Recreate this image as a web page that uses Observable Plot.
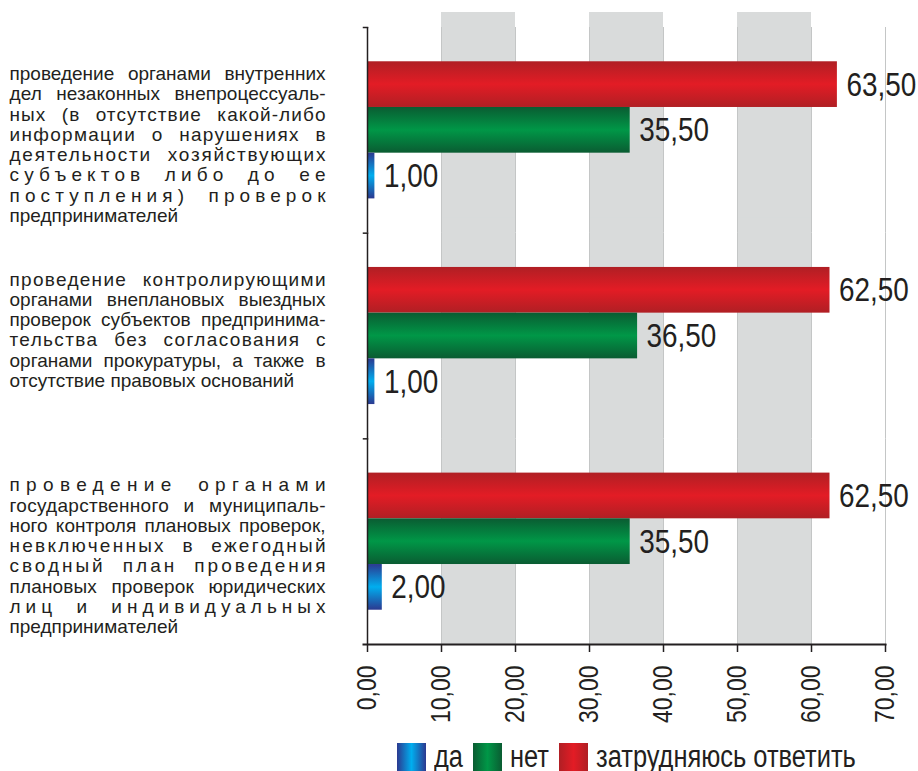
<!DOCTYPE html>
<html>
<head>
<meta charset="utf-8">
<script src="https://cdn.jsdelivr.net/npm/d3@7"></script>
<script src="https://cdn.jsdelivr.net/npm/@observablehq/plot@0.6"></script>
<style>
  body { margin: 0; background: #fff; }
  #chart { width: 918px; }
  #chart svg { display: block; }
  .legend { display: flex; justify-content: center; align-items: center; width: 918px; box-sizing: border-box;
    padding-left: 334px; margin-top: 13px; height: 28px; line-height: 28px;
    font-family: "Liberation Sans", Arial, sans-serif; font-size: 31px; color: #231f20; }
  .legend .item { display: flex; align-items: center; margin-right: 10px; }
  .legend .item:last-child { margin-right: 0; }
  .legend .sw { width: 29px; height: 28px; margin-right: 8px; flex: none; }
  .legend .lab { display: inline-block; transform-origin: left center; white-space: nowrap; }
</style>
</head>
<body>
<div id="chart"></div>
<div class="legend" id="legend"></div>
<script>
// ---------- data ----------
const categories = [
  "проведение органами внутренних\nдел незаконных внепроцессуаль-\nных (в отсутствие какой-либо\nинформации о нарушениях в\nдеятельности хозяйствующих\nсубъектов либо до ее\nпоступления) проверок\nпредпринимателей",
  "проведение контролирующими\nорганами внеплановых выездных\nпроверок субъектов предпринима-\nтельства без согласования с\nорганами прокуратуры, а также в\nотсутствие правовых оснований",
  "проведение органами\nгосударственного и муниципаль-\nного контроля плановых проверок,\nневключенных в ежегодный\nсводный план проведения\nплановых проверок юридических\nлиц и индивидуальных\nпредпринимателей"
];
const seriesNames = ["да", "нет", "затрудняюсь ответить"];
const valuesYes = [1.00, 1.00, 2.00];
const valuesNo = [35.50, 36.50, 35.50];
const valuesUnsure = [63.50, 62.50, 62.50];
const xTickValues = [0, 10, 20, 30, 40, 50, 60, 70];
const shadedBands = [[10, 20], [30, 40], [50, 60]];

// ---------- styling ----------
const sans = '"Liberation Sans", Arial, sans-serif';
const narrowScale = 0.82;   // emulate a condensed face
const ink = "#231f20";
const gradients = [
  {id: "grad-da", edge: "#2b3990", mid: "#00aeef"},
  {id: "grad-net", edge: "#0a5c32", mid: "#009747"},
  {id: "grad-zat", edge: "#b01f24", mid: "#e31c25"}
];

const table = categories.flatMap((c, i) => [
  {category: c, series: seriesNames[2], value: valuesUnsure[i]},
  {category: c, series: seriesNames[1], value: valuesNo[i]},
  {category: c, series: seriesNames[0], value: valuesYes[i]}
]);
const fmt = v => v.toFixed(2).replace(".", ",");

const width = 918, marginLeft = 367, marginRight = 33, marginTop = 27, marginBottom = 86;
const plotWidth = width - marginLeft - marginRight;

const chart = Plot.plot({
  width, height: 730, marginLeft, marginRight, marginTop, marginBottom,
  style: {fontFamily: sans, color: ink, background: "white", overflow: "visible"},
  x: {domain: [0, 70], axis: null, round: false},
  y: {domain: [seriesNames[2], seriesNames[1], seriesNames[0]], axis: null, paddingInner: 0, paddingOuter: 0.75, round: false},
  fy: {domain: categories, axis: null, padding: 0, round: false},
  color: {domain: seriesNames, range: gradients.map(g => `url(#${g.id})`)},
  marks: [
    Plot.rect(shadedBands, {x1: d => d[0], x2: d => d[1], fill: "#d9dbdb", insetTop: -15}),
    Plot.ruleX(xTickValues.slice(1), {stroke: "#c4c6c6", strokeWidth: 1}),
    Plot.barX(table, {fy: "category", y: "series", x: "value", fill: "series"}),
    Plot.text(table, {fy: "category", y: "series", x: "value", text: d => fmt(d.value), dx: 9,
      textAnchor: "start", fontSize: 34, fill: ink}),
    Plot.ruleX([0], {stroke: ink, strokeWidth: 1.5}),
    Plot.frame({anchor: "top", insetLeft: -4, insetRight: plotWidth, stroke: ink, strokeWidth: 1.5}),
    Plot.frame({anchor: "bottom", facetAnchor: "bottom", insetLeft: -4, stroke: ink, strokeWidth: 2}),
    Plot.axisX({ticks: xTickValues, anchor: "bottom", tickSize: 8, tickPadding: 13, tickRotate: -90,
      tickFormat: fmt, fontSize: 28, fill: ink, stroke: ink, strokeWidth: 1.5, label: null}),
    Plot.text(categories, {fy: d => d, text: d => d, frameAnchor: "top-left", textAnchor: "start", lineAnchor: "top",
      dx: -(marginLeft - 9), dy: 38, fontSize: 19, lineHeight: 20.3 / 19, fill: ink})
  ]
});

// gradient definitions referenced by the colour scale
const ns = "http://www.w3.org/2000/svg";
const defs = document.createElementNS(ns, "defs");
for (const g of gradients) {
  const lg = document.createElementNS(ns, "linearGradient");
  lg.setAttribute("id", g.id);
  lg.setAttribute("x1", "0"); lg.setAttribute("y1", "0");
  lg.setAttribute("x2", "0"); lg.setAttribute("y2", "1");
  [[0, g.edge], [0.5, g.mid], [1, g.edge]].forEach(([o, c]) => {
    const s = document.createElementNS(ns, "stop");
    s.setAttribute("offset", o); s.setAttribute("stop-color", c);
    lg.appendChild(s);
  });
  defs.appendChild(lg);
}
chart.insertBefore(defs, chart.firstChild);
document.getElementById("chart").appendChild(chart);

const texts = Array.from(chart.querySelectorAll("text"));
const numberTexts = new Set([...table.map(d => fmt(d.value)), ...xTickValues.map(fmt)]);

// condensed look for numbers
texts.filter(t => t.querySelectorAll("tspan").length === 0 && numberTexts.has(t.textContent.trim())).forEach(t => {
  const w = t.getComputedTextLength();
  t.setAttribute("textLength", (w * narrowScale).toFixed(2));
  t.setAttribute("lengthAdjust", "spacingAndGlyphs");
});

// justify category label lines (word spacing first, then letter spacing)
const justifyWidth = 316;
texts.filter(t => t.querySelectorAll("tspan").length > 1).forEach(text => {
  const spans = Array.from(text.querySelectorAll("tspan"));
  spans.forEach((t, i) => {
    if (i === spans.length - 1) return;
    const str = t.textContent;
    const natural = t.getComputedTextLength();
    const nSp = (str.match(/ /g) || []).length;
    let extra = justifyWidth - natural;
    let ws = 0;
    if (extra > 0 && nSp > 0) {
      ws = Math.min(extra / nSp, 9);
      t.style.wordSpacing = ws + "px";
      extra -= ws * nSp;
    }
    const n = str.length;
    if (n > 1) t.style.letterSpacing = (extra / (n - 1)) + "px";
  });
});

// legend
const legend = document.getElementById("legend");
const labs = [];
seriesNames.forEach((name, i) => {
  const g = gradients[i];
  const item = document.createElement("div");
  item.className = "item";
  const sw = document.createElement("div");
  sw.className = "sw";
  sw.style.background = `linear-gradient(to right, ${g.edge}, ${g.mid}, ${g.edge})`;
  const lab = document.createElement("span");
  lab.className = "lab";
  lab.textContent = name;
  item.appendChild(sw); item.appendChild(lab);
  legend.appendChild(item);
  labs.push(lab);
});
labs.forEach(lab => {
  const w = lab.getBoundingClientRect().width;
  lab.style.transform = `scaleX(${narrowScale})`;
  lab.style.marginRight = (-(1 - narrowScale) * w) + "px";
});
</script>
</body>
</html>
